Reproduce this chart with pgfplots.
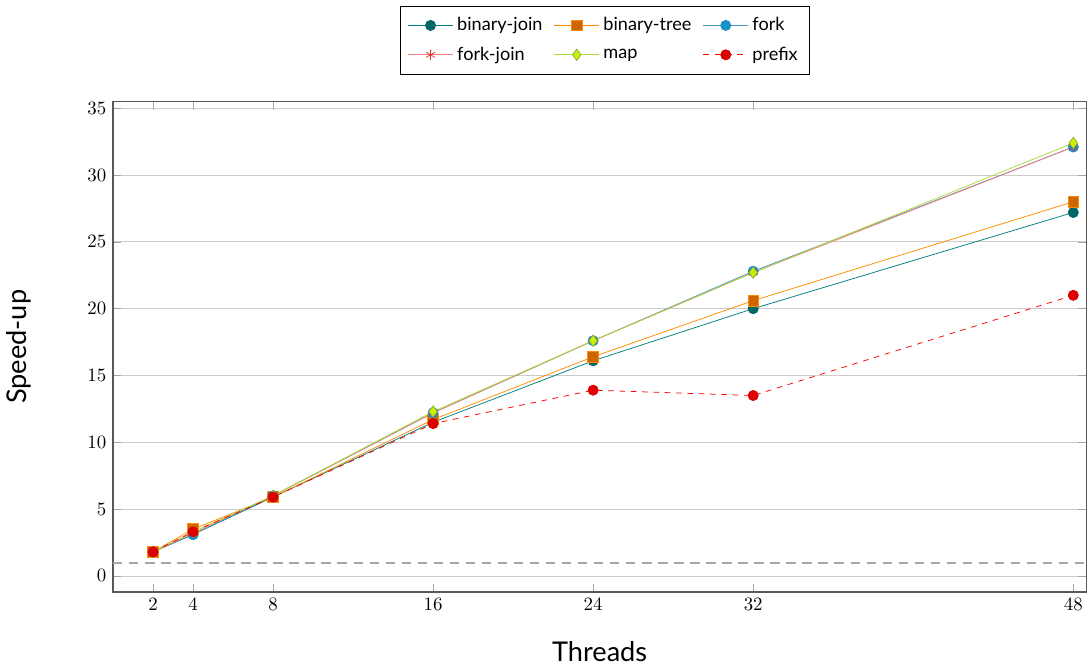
\documentclass[border=0pt]{standalone}
\usepackage{pgfplots}
\pgfplotsset{compat=1.18}
\usepackage{fontspec}
\setmainfont{Lato}
\definecolor{cbj}{RGB}{0,128,128}
\definecolor{cbjm}{RGB}{0,102,102}
\definecolor{cbt}{RGB}{255,140,0}
\definecolor{cbtm}{RGB}{204,102,0}
\definecolor{cfk}{RGB}{70,150,190}
\definecolor{cfkm}{RGB}{25,145,200}
\definecolor{cfj}{RGB}{245,125,125}
\definecolor{cfjm}{RGB}{235,50,50}
\definecolor{cmap}{RGB}{170,220,60}
\definecolor{cmapm}{RGB}{205,240,0}
\definecolor{cpre}{RGB}{255,0,0}
\definecolor{cprem}{RGB}{220,0,0}
\begin{document}
\begin{tikzpicture}
\begin{axis}[
  scale only axis, width=516pt, height=260pt,
  xmin=0, xmax=48.65, ymin=-1.2, ymax=35.5,
  xtick={2,4,8,16,24,32,48},
  ytick={0,5,10,15,20,25,30,35},
  ymajorgrids, grid style={gray!40},
  axis line style={black!65, semithick},
  tick style={gray!70},
  xlabel={Threads}, ylabel={Speed-up},
  every axis x label/.style={at={(axis description cs:0.5,-0.122)}, anchor=center, font=\Large},
  every axis y label/.style={at={(axis description cs:-0.097,0.5)}, anchor=center, rotate=90, font=\Large},
  legend columns=3,
  legend cell align=left,
  legend image code/.code={\draw[mark repeat=2,mark phase=2] plot coordinates {(0cm,0cm) (0.42cm,0cm) (0.84cm,0cm)};},
  legend style={at={(0.505,1.055)}, anchor=south, draw=black, font=\fontsize{9.6}{11}\selectfont,
    row sep=3pt, inner sep=4pt,
    /tikz/every even column/.append style={column sep=4pt}},
]
\addplot[cbj, mark=*, mark size=2.7pt, mark options={fill=cbjm, draw=cbjm}] coordinates {
(2,1.8) (4,3.1) (8,5.9) (16,11.5) (24,16.1) (32,20.0) (48,27.2)};
\addlegendentry{binary-join}
\addplot[cbt, mark=square*, mark size=2.8pt, mark options={fill=cbtm, draw=cbt}] coordinates {
(2,1.8) (4,3.5) (8,5.9) (16,11.7) (24,16.4) (32,20.6) (48,28.0)};
\addlegendentry{binary-tree}
\addplot[cfk, mark=*, mark size=2.7pt, mark options={fill=cfkm, draw=cfkm}] coordinates {
(2,1.8) (4,3.1) (8,6.0) (16,12.2) (24,17.6) (32,22.8) (48,32.1)};
\addlegendentry{fork}
\addplot[cfj, mark=asterisk, mark size=2.7pt, mark options={draw=cfjm}] coordinates {
(2,1.8) (4,3.2) (8,6.0) (16,12.2) (24,17.6) (32,22.7) (48,32.1)};
\addlegendentry{fork-join}
\addplot[cmap, mark=diamond*, mark size=3pt, mark options={fill=cmapm, draw=cmap!80!black}] coordinates {
(2,1.8) (4,3.3) (8,6.0) (16,12.3) (24,17.6) (32,22.7) (48,32.4)};
\addlegendentry{map}
\addplot[cpre, dashed, mark=*, mark size=2.7pt, mark options={solid, fill=cprem, draw=cprem}] coordinates {
(2,1.8) (4,3.3) (8,5.9) (16,11.4) (24,13.9) (32,13.5) (48,21.0)};
\addlegendentry{prefix}
\addplot[gray!70, line width=1.1pt, dash pattern=on 5pt off 3.5pt, forget plot] coordinates {(0,1) (48.65,1)};
\end{axis}
\path (current bounding box.north) ++(0,3pt);
\end{tikzpicture}
\end{document}
